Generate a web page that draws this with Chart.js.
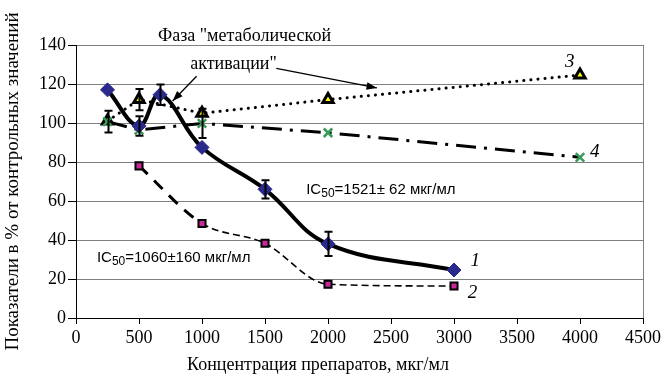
<!DOCTYPE html>
<html>
<head>
<meta charset="utf-8">
<script src="https://cdn.jsdelivr.net/npm/chart.js@4.4.1/dist/chart.umd.min.js"></script>
<style>
  html, body { margin: 0; padding: 0; background: #fff; }
  canvas { display: block; }
</style>
</head>
<body>
<canvas id="chart" width="664" height="379"></canvas>
<script>
// concentrations, mkg/ml
var conc1 = [250, 500, 667, 1000, 1500, 2000, 3000];
var val1  = [117, 98.5, 114.5, 87.5, 66, 38, 24.6];
var err1  = [0, 5, 5.3, 0, 4.7, 6.2, 0];

var conc2 = [500, 1000, 1500, 2000, 3000];
var val2  = [78, 48.5, 38.3, 17.3, 16.4];

var conc3 = [250, 500, 1000, 2000, 4000];
var val3  = [101, 112, 105, 112, 124.6];
var err3  = [0, 5.4, 0, 0, 0];

var conc4 = [250, 500, 1000, 2000, 4000];
var val4  = [100.7, 96.4, 99.8, 95, 82.4];
var err4  = [5.6, 0, 7.5, 0, 0];

var yTicks = [0, 20, 40, 60, 80, 100, 120, 140];
var xTicks = [0, 500, 1000, 1500, 2000, 2500, 3000, 3500, 4000, 4500];

function pts(xs, ys, es) {
    return xs.map(function (x, i) {
        return { x: x, y: ys[i], e: es ? es[i] : 0 };
    });
}

var serif = '"Liberation Serif", "Times New Roman", serif';
var sans = '"Liberation Sans", Arial, sans-serif';

// text labels placed in data units
var notes = [
    { x: 1337, y: 144.5, text: 'Фаза "метаболической', font: '18px ' + serif, align: 'center' },
    { x: 1250, y: 130, text: 'активации"', font: '18px ' + serif, align: 'center' },
    { x: 3130, y: 29, text: '1', font: 'italic 19px ' + serif, align: 'left' },
    { x: 3110, y: 13, text: '2', font: 'italic 19px ' + serif, align: 'left' },
    { x: 3880, y: 131.5, text: '3', font: 'italic 19px ' + serif, align: 'left' },
    { x: 4080, y: 85, text: '4', font: 'italic 19px ' + serif, align: 'left' }
];
var icNotes = [
    { x: 1827, y: 65.6, num: '1521± 62 мкг/мл' },
    { x: 166, y: 30.8, num: '1060±160 мкг/мл' }
];
var arrows = [
    { x0: 957, y0: 124, x1: 767, y1: 111.3 },
    { x0: 1590, y0: 128, x1: 2388, y1: 118 }
];

var extras = {
    id: 'extras',
    beforeDatasetsDraw: function (chart) {
        var c = chart.ctx, a = chart.chartArea;
        c.save();
        c.strokeStyle = '#808080';
        c.lineWidth = 1;
        c.beginPath();
        c.moveTo(a.right + 0.5, a.top);
        c.lineTo(a.right + 0.5, a.bottom);
        c.stroke();
        c.restore();
    },
    afterDatasetsDraw: function (chart) {
        var c = chart.ctx;
        var xs = chart.scales.x, ys = chart.scales.y;
        c.save();
        // error bars
        c.strokeStyle = '#000';
        c.lineWidth = 2;
        chart.data.datasets.forEach(function (ds) {
            ds.data.forEach(function (p) {
                if (!p.e) return;
                var px = Math.round(xs.getPixelForValue(p.x)) + 0.5;
                var t = ys.getPixelForValue(p.y + p.e);
                var b = ys.getPixelForValue(p.y - p.e);
                c.beginPath();
                c.moveTo(px, t); c.lineTo(px, b);
                c.moveTo(px - 4, t); c.lineTo(px + 4, t);
                c.moveTo(px - 4, b); c.lineTo(px + 4, b);
                c.stroke();
            });
        });
        // arrows
        c.lineWidth = 1.3;
        c.fillStyle = '#000';
        arrows.forEach(function (r) {
            var x0 = xs.getPixelForValue(r.x0), y0 = ys.getPixelForValue(r.y0);
            var x1 = xs.getPixelForValue(r.x1), y1 = ys.getPixelForValue(r.y1);
            var ang = Math.atan2(y1 - y0, x1 - x0);
            c.beginPath();
            c.moveTo(x0, y0); c.lineTo(x1, y1);
            c.stroke();
            c.beginPath();
            c.moveTo(x1, y1);
            c.lineTo(x1 - 11 * Math.cos(ang - 0.35), y1 - 11 * Math.sin(ang - 0.35));
            c.lineTo(x1 - 11 * Math.cos(ang + 0.35), y1 - 11 * Math.sin(ang + 0.35));
            c.closePath();
            c.fill();
        });
        // text
        c.textBaseline = 'middle';
        notes.forEach(function (n) {
            c.font = n.font;
            c.textAlign = n.align;
            c.fillText(n.text, xs.getPixelForValue(n.x), ys.getPixelForValue(n.y));
        });
        c.textAlign = 'left';
        icNotes.forEach(function (n) {
            var x = xs.getPixelForValue(n.x), y = ys.getPixelForValue(n.y);
            c.font = '15px ' + sans;
            c.fillText('IC', x, y);
            x += c.measureText('IC').width;
            c.font = '12px ' + sans;
            c.fillText('50', x, y + 4);
            x += c.measureText('50').width;
            c.font = '15px ' + sans;
            c.fillText('=' + n.num, x, y);
        });
        // x axis title, set a little left of centre as in the source
        c.font = '18px ' + serif;
        c.textAlign = 'center';
        c.fillText('Концентрация препаратов, мкг/мл', 318, 365);
        c.restore();
    }
};

new Chart(document.getElementById('chart'), {
    type: 'scatter',
    data: {
        datasets: [
            {
                label: '1',
                data: pts(conc1, val1, err1),
                showLine: true,
                borderColor: '#000',
                borderWidth: 4,
                tension: 0.4,
                pointStyle: 'rectRot',
                pointRadius: 7,
                pointBorderWidth: 1,
                pointBorderColor: '#2a2a8c',
                pointBackgroundColor: '#2a2a8c'
            },
            {
                label: '4',
                data: pts(conc4, val4, err4),
                showLine: true,
                borderColor: '#000',
                borderWidth: 3,
                borderDash: [20, 8, 3, 8],
                tension: 0,
                pointStyle: 'crossRot',
                pointRadius: 6,
                pointBorderWidth: 2.5,
                pointBorderColor: '#3a9a5a',
                pointBackgroundColor: '#3a9a5a'
            },
            {
                label: '3',
                data: pts(conc3, val3, err3),
                showLine: true,
                borderColor: '#000',
                borderWidth: 3,
                borderCapStyle: 'round',
                borderDash: [0.1, 7],
                tension: 0,
                pointStyle: 'triangle',
                pointRadius: 6,
                pointBorderWidth: 3,
                pointBorderColor: '#000',
                pointBackgroundColor: '#ffff00'
            },
            {
                label: '2',
                data: pts(conc2, val2),
                showLine: true,
                borderColor: '#000',
                borderWidth: 1.6,
                borderDash: [7, 4],
                cubicInterpolationMode: 'monotone',
                segment: {
                    borderWidth: function (ctx) { return ctx.p0DataIndex === 0 ? 3 : 1.6; },
                    borderDash: function (ctx) { return ctx.p0DataIndex === 0 ? [12, 9] : [7, 4]; }
                },
                pointStyle: 'rect',
                pointRadius: 5,
                pointBorderWidth: 2,
                pointBorderColor: '#000',
                pointBackgroundColor: '#c8289a'
            }
        ]
    },
    options: {
        responsive: false,
        animation: false,
        devicePixelRatio: 1,
        layout: { padding: { top: 45, right: 19, left: 0, bottom: 0 } },
        plugins: {
            legend: { display: false },
            tooltip: { enabled: false }
        },
        scales: {
            x: {
                type: 'linear',
                min: 0,
                max: 4500,
                afterFit: function (s) { s.height = 61; },
                afterBuildTicks: function (s) {
                    s.ticks = xTicks.map(function (v) { return { value: v }; });
                },
                grid: {
                    drawOnChartArea: false,
                    drawTicks: true,
                    tickLength: 6,
                    tickColor: '#000'
                },
                border: { color: '#000', width: 1 },
                ticks: {
                    color: '#000',
                    padding: 3,
                    maxRotation: 0,
                    font: { family: serif, size: 18 },
                    callback: function (v) { return String(v); }
                }
            },
            y: {
                min: 0,
                max: 140,
                afterFit: function (s) { s.width = 76; },
                afterBuildTicks: function (s) {
                    s.ticks = yTicks.map(function (v) { return { value: v }; });
                },
                grid: {
                    color: '#808080',
                    lineWidth: 1,
                    drawTicks: true,
                    tickLength: 8,
                    tickColor: '#000'
                },
                border: { color: '#000', width: 1 },
                ticks: {
                    color: '#000',
                    padding: 2,
                    font: { family: serif, size: 18 },
                    callback: function (v) { return String(v); }
                },
                title: {
                    display: true,
                    text: 'Показатели в % от контрольных значений',
                    color: '#000',
                    padding: { top: 2, bottom: 0 },
                    font: { family: serif, size: 19 }
                }
            }
        }
    },
    plugins: [extras]
});
</script>
</body>
</html>
